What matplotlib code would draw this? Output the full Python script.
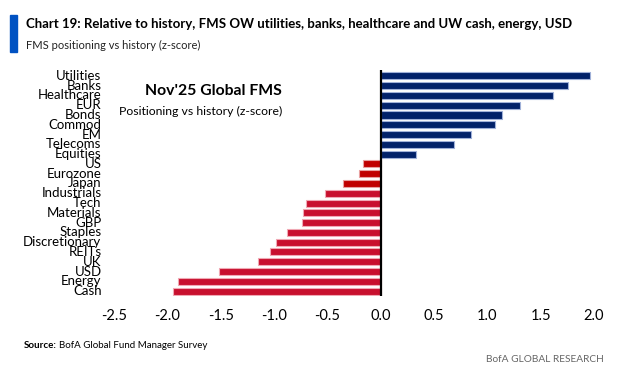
import matplotlib
matplotlib.use("Agg")
import matplotlib.pyplot as plt
from matplotlib.patches import Rectangle

categories = ["Utilities", "Banks", "Healthcare", "EUR", "Bonds", "Commod", "EM",
              "Telecoms", "Equities", "US", "Eurozone", "Japan", "Industrials", "Tech",
              "Materials", "GBP", "Staples", "Discretionary", "REITs", "UK", "USD",
              "Energy", "Cash"]
values = [1.96, 1.76, 1.62, 1.31, 1.14, 1.07, 0.85, 0.69, 0.33, -0.17, -0.20, -0.35,
          -0.52, -0.70, -0.73, -0.74, -0.88, -0.98, -1.04, -1.15, -1.52, -1.90, -1.95]
xticks = [-2.5, -2.0, -1.5, -1.0, -0.5, 0.0, 0.5, 1.0, 1.5, 2.0]

title = "Chart 19: Relative to history, FMS OW utilities, banks, healthcare and UW cash, energy, USD"
subtitle = "FMS positioning vs history (z-score)"
inner_title = "Nov'25 Global FMS"
inner_sub = "Positioning vs history (z-score)"

NAVY = "#012169"
RED_DARK = "#C00000"
RED = "#C8102E"
dark_red_set = {"US", "Eurozone", "Japan"}

font = ["Lato", "DejaVu Sans"]
plt.rcParams["font.family"] = font

fig = plt.figure(figsize=(6.17, 3.77), dpi=100)
W, H = 617, 377
x0, x1 = 114, 594
ax = fig.add_axes([x0 / W, 1 - 296 / H, (x1 - x0) / W, (296 - 70) / H])

n = len(categories)
ys = list(range(n))
colors = []
edges = []
for c, v in zip(categories, values):
    if v >= 0:
        colors.append(NAVY); edges.append("#9fb0d8")
    elif c in dark_red_set:
        colors.append(RED_DARK); edges.append("#e8a0a0")
    else:
        colors.append(RED); edges.append("#f0a8b4")
ax.barh(ys, values, height=0.72, color=colors, edgecolor=edges, linewidth=0.8)
ax.set_ylim(n - 0.5, -0.6)
ax.set_xlim(-2.5, 2.0)
ax.axvline(0, color="black", lw=1.6, zorder=5)

ax.set_xticks(xticks)
ax.set_xticklabels([f"{t:.1f}" for t in xticks], fontsize=10.5)
ax.set_yticks(ys)
ax.set_yticklabels(categories, fontsize=9.5)
for lab in ax.get_yticklabels():
    lab.set_verticalalignment("center")
ax.tick_params(axis="y", length=0, pad=9)
ax.tick_params(axis="x", length=0, pad=9)
for s in ax.spines.values():
    s.set_visible(False)

ax.text(0.065, 0.905, inner_title, transform=ax.transAxes, fontsize=11.3, fontweight="bold",
        ha="left", va="center")
ax.text(0.011, 0.815, inner_sub, transform=ax.transAxes, fontsize=8.8, ha="left", va="center")

# header
fig.patches.append(Rectangle((10 / W, 1 - 52 / H), 7 / W, 37 / H, transform=fig.transFigure,
                             color="#0052C2"))
fig.text(26 / W, 1 - 24 / H, title, fontsize=9.5, fontweight="bold", ha="left", va="center")
fig.text(26 / W, 1 - 45 / H, subtitle, fontsize=8.0, ha="left", va="center", color="#222222")

fig.text(24 / W, 1 - 346 / H, "Source:", fontsize=7.0, fontweight="bold", ha="left", va="center")
fig.text(59 / W, 1 - 346 / H, "BofA Global Fund Manager Survey", fontsize=7.0, ha="left", va="center")
fig.text(604 / W, 1 - 360 / H, "BofA GLOBAL RESEARCH", fontsize=7.3, ha="right", va="center",
         color="#666666")

fig.savefig("out.png", dpi=100)
